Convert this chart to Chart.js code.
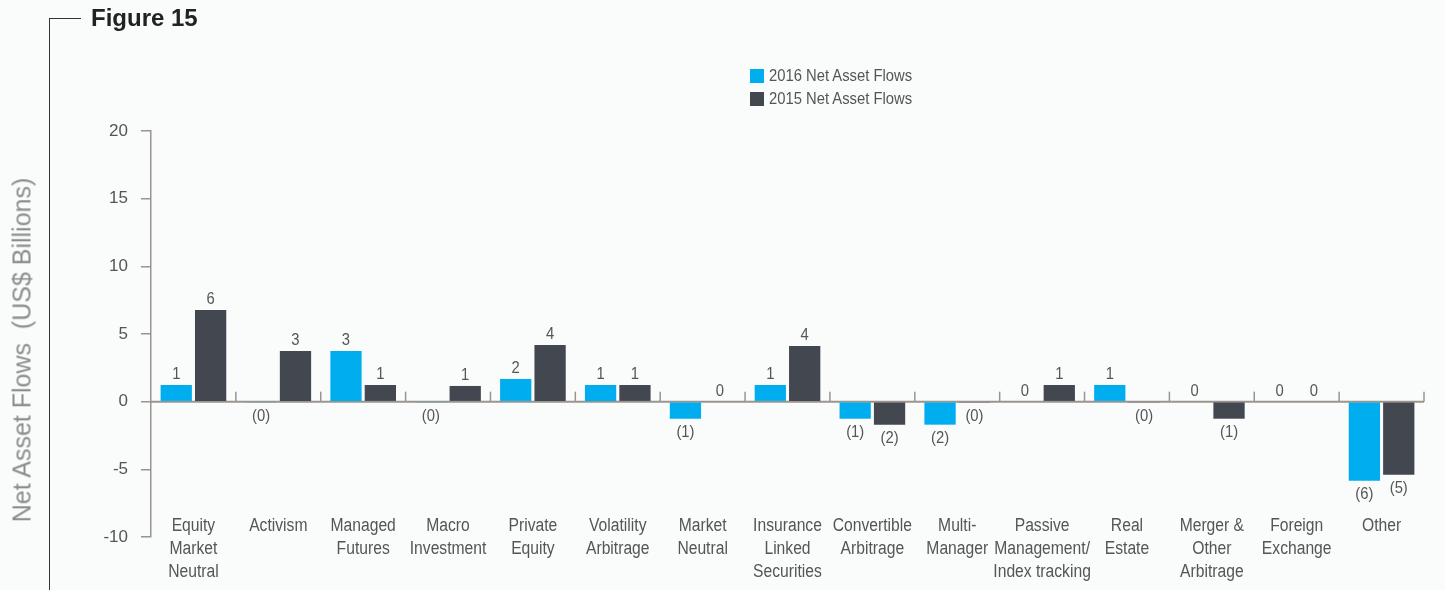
<!DOCTYPE html>
<html>
<head>
<meta charset="utf-8">
<script src="https://cdn.jsdelivr.net/npm/chart.js@4.4.1/dist/chart.umd.min.js"></script>
<style>
    body { margin: 0; background: #fafbfb; font-family: "Liberation Sans", Arial, sans-serif; }
    #wrap { position: relative; width: 1445px; height: 590px; overflow: hidden; }
    #chart { position: absolute; left: 0; top: 0; }
    .fig-title { position: absolute; left: 91px; top: 4px; font-size: 24px; font-weight: bold; color: #222; }
    .bracket-v { position: absolute; left: 49px; top: 18px; width: 0; height: 580px; border-left: 1.5px solid #333; }
    .bracket-h { position: absolute; left: 49px; top: 18px; width: 32px; height: 0; border-top: 1.5px solid #333; }
    .y-title { position: absolute; left: 22px; top: 350px; transform: translate(-50%, -50%) rotate(-90deg);
        white-space: pre; font-size: 25px; color: #8c8c8c; }
    .legend { position: absolute; left: 750px; top: 64px; font-size: 17px; color: #555; }
    .legend div { height: 23px; display: flex; align-items: center; }
    .legend span.box { display: inline-block; width: 14px; height: 14px; margin-right: 5px; }
    .legend span.txt { display: inline-block; transform: scaleX(0.87); transform-origin: left center; white-space: nowrap; }
</style>
</head>
<body>
<div id="wrap">
    <canvas id="chart" width="1445" height="590"></canvas>
    <div class="bracket-v"></div>
    <div class="bracket-h"></div>
    <div class="fig-title">Figure 15</div>
    <div class="y-title">Net Asset Flows  (US$ Billions)</div>
    <div class="legend" id="legend"></div>
</div>
<script>
const categories = [
    ["Equity", "Market", "Neutral"], ["Activism"], ["Managed", "Futures"], ["Macro", "Investment"],
    ["Private", "Equity"], ["Volatility", "Arbitrage"], ["Market", "Neutral"], ["Insurance", "Linked", "Securities"],
    ["Convertible", "Arbitrage"], ["Multi-", "Manager"], ["Passive", "Management/", "Index tracking"],
    ["Real", "Estate"], ["Merger &", "Other", "Arbitrage"], ["Foreign", "Exchange"], ["Other"]
];

const flows2016 = [1.23, -0.04, 3.75, -0.04, 1.68, 1.23, -1.26, 1.23, -1.26, -1.7, 0, 1.23, 0, 0, -5.84];
const flows2015 = [6.78, 3.75, 1.23, 1.16, 4.19, 1.23, 0, 4.12, -1.7, -0.04, 1.23, -0.04, -1.26, 0, -5.4];

const labels2016 = ["1", "(0)", "3", "(0)", "2", "1", "(1)", "1", "(1)", "(2)", "0", "1", "0", "0", "(6)"];
const labels2015 = ["6", "3", "1", "1", "4", "1", "0", "4", "(2)", "(0)", "1", "(0)", "(1)", "0", "(5)"];

const yTicks = [-10, -5, 0, 5, 10, 15, 20];

const series = [
    { label: "2016 Net Asset Flows", data: flows2016, text: labels2016, color: "#00AEEF" },
    { label: "2015 Net Asset Flows", data: flows2015, text: labels2015, color: "#43474F" }
];

const textColor = "#555";
const axisColor = "#9a948f";
const squeeze = 0.87;   // condensed look of the original typeface

// legend
const legendEl = document.getElementById("legend");
series.forEach(s => {
    legendEl.innerHTML += `<div><span class="box" style="background:${s.color}"></span><span class="txt">${s.label}</span></div>`;
});

function narrowText(ctx, text, x, y) {
    ctx.save();
    ctx.translate(x, y);
    ctx.scale(squeeze, 1);
    ctx.fillText(text, 0, 0);
    ctx.restore();
}

// zero line, category ticks and labels drawn inside the plot
const xAxisPlugin = {
    id: "xAxisPlugin",
    beforeDatasetsDraw(chart) {
        const { ctx } = chart;
        const x = chart.scales.x, y = chart.scales.y;
        const zero = y.getPixelForValue(0);
        const n = categories.length;
        const step = (x.right - x.left) / n;
        ctx.save();
        ctx.strokeStyle = axisColor;
        ctx.lineWidth = 2;
        ctx.beginPath();
        ctx.moveTo(x.left, zero);
        ctx.lineTo(x.right, zero);
        ctx.stroke();
        ctx.lineWidth = 1.5;
        for (let i = 1; i <= n; i++) {
            const px = x.left + i * step;
            ctx.beginPath();
            ctx.moveTo(px, zero - 10);
            ctx.lineTo(px, zero);
            ctx.stroke();
        }
        ctx.restore();
    },
    afterDatasetsDraw(chart) {
        const { ctx } = chart;
        const x = chart.scales.x, y = chart.scales.y;
        ctx.save();
        ctx.font = '18px "Liberation Sans", sans-serif';
        ctx.fillStyle = textColor;
        ctx.textAlign = "center";
        ctx.textBaseline = "middle";
        categories.forEach((lines, i) => {
            const cx = x.getPixelForValue(i);
            lines.forEach((line, j) => {
                narrowText(ctx, line, cx, y.bottom - 11 + j * 23);
            });
        });

        // value labels
        ctx.font = '17px "Liberation Sans", sans-serif';
        chart.data.datasets.forEach((ds, di) => {
            const meta = chart.getDatasetMeta(di);
            meta.data.forEach((bar, i) => {
                const v = ds.data[i];
                if (v < 0) {
                    ctx.textBaseline = "top";
                    narrowText(ctx, series[di].text[i], bar.x, Math.max(bar.y, bar.base) + 5);
                } else {
                    ctx.textBaseline = "bottom";
                    narrowText(ctx, series[di].text[i], bar.x, Math.min(bar.y, bar.base) - 2);
                }
            });
        });
        ctx.restore();
    }
};

new Chart(document.getElementById("chart"), {
    type: "bar",
    data: {
        labels: categories.map(c => c.join(" ")),
        datasets: series.map(s => ({
            label: s.label,
            data: s.data,
            backgroundColor: s.color,
            borderWidth: 0,
            barPercentage: 0.91,
            categoryPercentage: 0.81
        }))
    },
    options: {
        responsive: false,
        animation: false,
        layout: { padding: { left: 50, right: 21, top: 131, bottom: 53 } },
        plugins: {
            legend: { display: false },
            tooltip: { enabled: false }
        },
        scales: {
            x: { display: false },
            y: {
                min: -10,
                max: 20,
                afterBuildTicks: axis => { axis.ticks = yTicks.map(v => ({ value: v })); },
                afterFit: axis => { axis.width = 101; },
                ticks: { font: { size: 17, family: '"Liberation Sans", sans-serif' }, color: textColor, padding: 13 },
                grid: { drawOnChartArea: false, drawTicks: true, tickLength: 10, color: axisColor, lineWidth: 1.5 },
                border: { color: axisColor, width: 1.5 }
            }
        }
    },
    plugins: [xAxisPlugin]
});
</script>
</body>
</html>
